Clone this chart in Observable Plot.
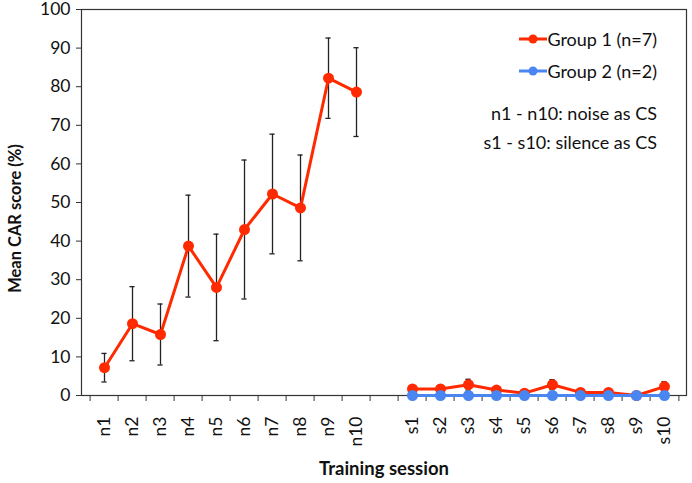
<!DOCTYPE html>
<html>
<head>
<meta charset="utf-8">
<script src="https://cdn.jsdelivr.net/npm/d3@7"></script>
<script src="https://cdn.jsdelivr.net/npm/@observablehq/plot@0.6"></script>
<style>
  html, body { margin: 0; padding: 0; background: #fff; }
  #wrap { position: relative; width: 692px; height: 483px; font-family: Lato, "Open Sans", sans-serif; }
  #wrap svg { overflow: visible; }
  #legend { position: absolute; right: 35px; top: 29px; text-align: right; font-size: 18px; color: #111; line-height: 1; }
  #legend .row { display: flex; justify-content: flex-end; align-items: center; height: 20px; }
  #legend .gap { height: 17px; }
  #legend .note { height: 29px; display: flex; align-items: center; justify-content: flex-end; }
</style>
</head>
<body>
<div id="wrap"></div>
<script>
const sessions = ["n1","n2","n3","n4","n5","n6","n7","n8","n9","n10"," ","s1","s2","s3","s4","s5","s6","s7","s8","s9","s10"];
const noiseSessions = ["n1","n2","n3","n4","n5","n6","n7","n8","n9","n10"];
const silenceSessions = ["s1","s2","s3","s4","s5","s6","s7","s8","s9","s10"];
const group1Noise = [7.2, 18.6, 15.8, 38.7, 28.0, 43.0, 52.2, 48.6, 82.2, 78.6];
const group1NoiseErr = [3.7, 9.6, 7.9, 13.2, 13.8, 18.0, 15.5, 13.7, 10.4, 11.5];
const group1Silence = [1.7, 1.7, 2.8, 1.4, 0.6, 2.8, 0.8, 0.8, 0.0, 2.3];
const group1SilenceErr = [0.9, 0.9, 1.4, 0.5, 0.3, 1.3, 0.3, 0.3, 0.0, 1.3];
const group2Silence = [0, 0, 0, 0, 0, 0, 0, 0, 0, 0];
const group2SilenceErr = [0, 0, 0, 0, 0, 0, 0, 0, 0, 0];
const yTicks = [0,10,20,30,40,50,60,70,80,90,100];
const red = "#ff2a00";
const blue = "#4a86f2";

const rows = [];
noiseSessions.forEach((s, i) => rows.push({session: s, group: "Group 1", phase: "noise", mean: group1Noise[i], err: group1NoiseErr[i]}));
silenceSessions.forEach((s, i) => rows.push({session: s, group: "Group 1", phase: "silence", mean: group1Silence[i], err: group1SilenceErr[i]}));
const rows2 = silenceSessions.map((s, i) => ({session: s, group: "Group 2", phase: "silence", mean: group2Silence[i], err: group2SilenceErr[i]}));
const all = rows.concat(rows2);

const W = 692, H = 483, mL = 81, mR = 6, mT = 9, mB = 88;
const step = (W - mL - mR) / sessions.length;
const font = "Lato, 'Open Sans', sans-serif";

const chart = Plot.plot({
  width: W, height: H,
  marginLeft: mL, marginRight: mR, marginTop: mT, marginBottom: mB,
  style: {fontFamily: font, fontSize: "17px", color: "#111", background: "#fff", overflow: "visible"},
  x: {type: "band", domain: sessions, padding: 0},
  y: {domain: [0, 100]},
  marks: [
    Plot.frame({stroke: "#333", strokeWidth: 1.2}),
    Plot.axisY({ticks: yTicks, tickSize: 5, tickPadding: 6, label: null, fontSize: 17.5, stroke: "#333"}),
    Plot.axisX({tickSize: 0, tickPadding: 21, tickRotate: -90, label: null, fontSize: 17.5, tickFormat: d => d.trim()}),
    Plot.axisX({tickSize: 6, text: null, label: null, dx: -step / 2, stroke: "#333"}),
    Plot.axisX({ticks: ["s10"], tickSize: 6, text: null, label: null, dx: step / 2, stroke: "#333"}),
    Plot.ruleX(all, {x: "session", y1: d => d.mean - d.err, y2: d => d.mean + d.err, stroke: "#222", strokeWidth: 1.3}),
    Plot.tickY(all, {x: "session", y: d => d.mean + d.err, stroke: "#222", strokeWidth: 1.3, insetLeft: step / 2 - 3, insetRight: step / 2 - 3}),
    Plot.tickY(all, {x: "session", y: d => d.mean - d.err, stroke: "#222", strokeWidth: 1.3, insetLeft: step / 2 - 3, insetRight: step / 2 - 3}),
    Plot.line(rows, {x: "session", y: "mean", z: "phase", stroke: red, strokeWidth: 3}),
    Plot.dot(rows, {x: "session", y: "mean", r: 5.5, fill: red}),
    Plot.line(rows2, {x: "session", y: "mean", stroke: blue, strokeWidth: 3}),
    Plot.dot(rows2, {x: "session", y: "mean", r: 5.5, fill: blue}),
    Plot.text(["Mean CAR score (%)"], {text: d => d, frameAnchor: "left", textAnchor: "middle", lineAnchor: "middle", dx: -66, dy: 16, rotate: -90, fontWeight: "bold", fontSize: 16.5, fill: "#111"}),
    Plot.text(["Training session"], {text: d => d, frameAnchor: "bottom", textAnchor: "middle", lineAnchor: "middle", dy: 74, fontWeight: "bold", fontSize: 18.5, fill: "#111"})
  ]
});

const wrap = document.getElementById("wrap");
wrap.appendChild(chart);

const legendItems = [
  {label: "Group 1 (n=7)", color: red},
  {label: "Group 2 (n=2)", color: blue}
];
const notes = ["n1 - n10: noise as CS", "s1 - s10: silence as CS"];
const legend = document.createElement("div");
legend.id = "legend";
let html = "";
legendItems.forEach((it, i) => {
  html += `<div class="row" style="margin-bottom:${i === 0 ? 12 : 0}px"><svg width="28" height="12"><line x1="0" x2="28" y1="6" y2="6" stroke="${it.color}" stroke-width="3"/><circle cx="14" cy="6" r="4.5" fill="${it.color}"/></svg><span>${it.label}</span></div>`;
});
html += `<div class="gap"></div>`;
notes.forEach(n => { html += `<div class="note">${n}</div>`; });
legend.innerHTML = html;
wrap.appendChild(legend);
</script>
</body>
</html>
